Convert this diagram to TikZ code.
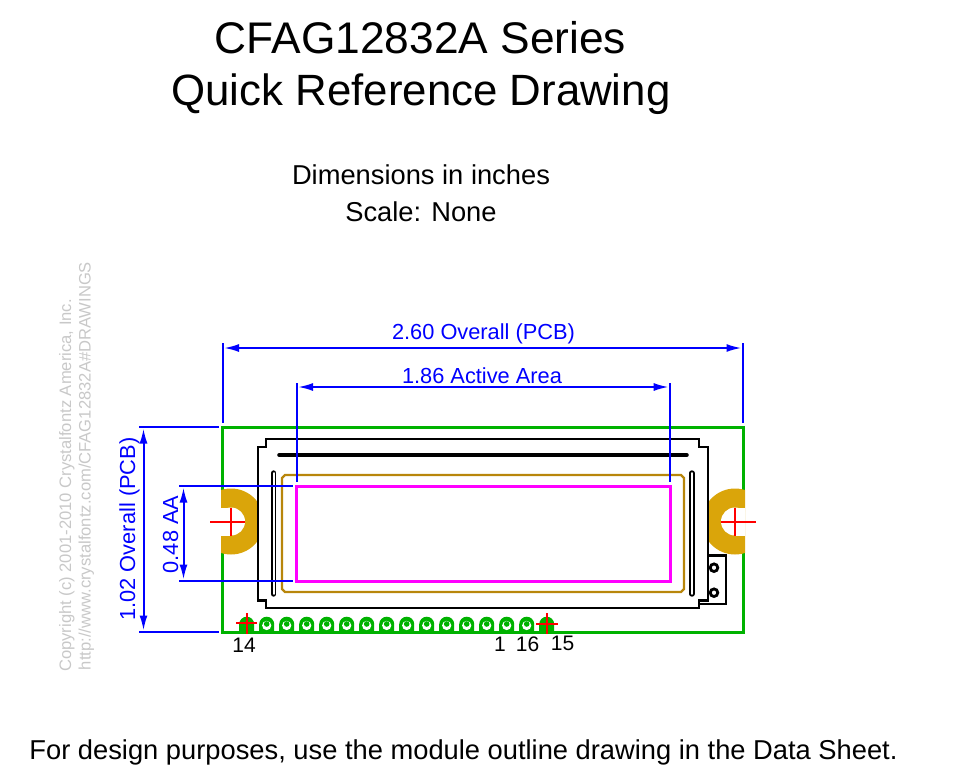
\documentclass[tikz,border=0pt]{standalone}
\usepackage{fontspec}
\setmainfont{Liberation Sans}
\usetikzlibrary{arrows.meta}
\definecolor{pcbgreen}{RGB}{0,178,0}
\definecolor{padgold}{RGB}{218,165,10}
\definecolor{aagold}{RGB}{184,134,11}
\definecolor{dimblue}{RGB}{0,0,255}
\definecolor{aamag}{RGB}{255,0,255}
\definecolor{wmgray}{RGB}{200,200,200}
\newcommand{\fs}[1]{\fontsize{#1pt}{#1pt}\selectfont}
\tikzset{
  lbl/.style={inner sep=0pt,outer sep=0pt,anchor=base},
  titletxt/.style={lbl,font=\fs{43.8}},
  subtxt/.style={lbl,font=\fs{27.3}},
  dimtxt/.style={lbl,text=dimblue,font=\fs{21.8}},
  pintxt/.style={lbl,font=\fs{21}},
  wmtxt/.style={lbl,text=wmgray,rotate=90,font=\fs{16.6}},
  extline/.style={draw=dimblue,line width=2pt},
  dimline/.style={draw=dimblue,line width=2pt,{Latex[length=15pt,width=8pt]}-{Latex[length=15pt,width=8pt]}},
  blackline/.style={draw=black,line width=2.8pt,line join=miter},
  slotout/.style={draw=black,line width=5.4pt,line cap=round},
  slotin/.style={draw=white,line width=1.6pt,line cap=round},
  redcross/.style={draw=red,line width=2pt},
}
\begin{document}
\begin{tikzpicture}[x=1pt,y=-1pt]
\useasboundingbox (0,0) rectangle (957,774);
% titles
\node[titletxt,font=\fs{44.3}] (t1) at (420.5,53) {CFAG12832A Series};
\node[titletxt] (t2) at (421,105) {Quick Reference Drawing};
\node[subtxt] (s1) at (421,184) {Dimensions in inches};
\node[subtxt] (s2) at (421,221) {Scale: None};
\node[subtxt] (foot) at (463.5,759) {For design purposes, use the module outline drawing in the Data Sheet.};
% watermark
\node[wmtxt] (wm1) at (71,485.5) {Copyright (c) 2001-2010 Crystalfontz America, Inc.};
\node[wmtxt] (wm2) at (90.5,466) {http://www.crystalfontz.com/CFAG12832A\#DRAWINGS};
% PCB
\draw[pcbgreen,line width=3pt,line join=miter] (222,427) rectangle (743.5,632);
% pins
\foreach \i in {0,...,15}{
  \pgfmathsetmacro{\px}{246.7+20*\i}
  \fill[pcbgreen] (\px-7.5,632) -- (\px-7.5,624.2) arc[start angle=180,end angle=0,x radius=7.5,y radius=-7.5] -- (\px+7.5,632) -- cycle;
  \ifnum\i>0 \ifnum\i<15
    \fill[white] (\px,625.5) circle[radius=4.6];
    \fill[pcbgreen] (\px,624) circle[radius=2.8];
  \fi\fi
}
% mounting pads
\begin{scope}
  \clip (221,480) rectangle (258,560);
  \fill[padgold] (231,521.5) circle[radius=33];
  \fill[white] (231,521.5) circle[radius=14];
  \fill[white] (219,507.5) rectangle (231,535.5);
\end{scope}
\begin{scope}
  \clip (708,480) rectangle (745,560);
  \fill[padgold] (735,521.5) circle[radius=33];
  \fill[white] (735,521.5) circle[radius=14];
  \fill[white] (735,507.5) rectangle (747,535.5);
\end{scope}
% connector at right
\draw[blackline] (708,555.7) -- (726,555.7) -- (726,604) -- (699,604);
\draw[black,line width=2.8pt,fill=white] (714,567.7) circle[radius=3.8];
\draw[black,line width=2.8pt,fill=white] (714,592.7) circle[radius=3.8];
% module outline
\draw[blackline] (266,439) -- (699,439) -- (699,447) -- (708,447) -- (708,600.5) -- (699,600.5) -- (699,608) -- (266,608) -- (266,600.5) -- (258,600.5) -- (258,447) -- (266,447) -- cycle;
% slots
\draw[slotout,line width=4.6pt] (279.5,455) -- (686.5,455);
\draw[slotout] (273.7,473) -- (273.7,594);
\draw[slotin] (273.7,473) -- (273.7,594);
\draw[slotout] (691.8,473) -- (691.8,594);
\draw[slotin] (691.8,473) -- (691.8,594);
% active area and viewing area
\draw[aagold,line width=2.2pt] (285,475) -- (681,475) -- (684,478) -- (684,589) -- (681,592) -- (285,592) -- (282,589) -- (282,478) -- cycle;
\draw[aamag,line width=3pt,line join=miter] (296.5,486) rectangle (670,581);
% red crosses
\coordinate (cLa) at (210,521.5); \coordinate (cLb) at (245,521.5);
\coordinate (cLc) at (231,507.5); \coordinate (cLd) at (231,535.5);
\coordinate (cRa) at (721,521.5); \coordinate (cRb) at (756,521.5);
\coordinate (cRc) at (735,507.5); \coordinate (cRd) at (735,535.5);
\coordinate (p14a) at (236,623); \coordinate (p14b) at (257,623);
\coordinate (p14c) at (246.7,613); \coordinate (p14d) at (246.7,634);
\coordinate (p15a) at (536,623.5); \coordinate (p15b) at (557.5,623.5);
\coordinate (p15c) at (546.7,613); \coordinate (p15d) at (546.7,634);
\draw[redcross] (cLa) -- (cLb); \draw[redcross] (cLc) -- (cLd);
\draw[redcross] (cRa) -- (cRb); \draw[redcross] (cRc) -- (cRd);
\draw[redcross] (p14a) -- (p14b); \draw[redcross] (p14c) -- (p14d);
\draw[redcross] (p15a) -- (p15b); \draw[redcross] (p15c) -- (p15d);
% pin labels
\node[pintxt] (n14) at (244,652) {14};
\node[pintxt] (n1) at (500,651) {1};
\node[pintxt] (n16) at (527.5,651) {16};
\node[pintxt] (n15) at (562.5,650) {15};
% dimension coordinates
\coordinate (ovL) at (224,348); \coordinate (ovR) at (741.5,348);
\coordinate (ovLt) at (222.7,343); \coordinate (ovLb) at (222.7,423);
\coordinate (ovRt) at (742.7,343); \coordinate (ovRb) at (742.7,423);
\coordinate (aaL) at (298,387); \coordinate (aaR) at (668.7,387);
\coordinate (aaLt) at (296.7,383); \coordinate (aaLb) at (296.7,482);
\coordinate (aaRt) at (670,383); \coordinate (aaRb) at (670,482);
\coordinate (hT) at (143.5,428.5); \coordinate (hB) at (143.5,630.5);
\coordinate (hTa) at (139,427); \coordinate (hTb) at (219,427);
\coordinate (hBa) at (139,632); \coordinate (hBb) at (219,632);
\coordinate (vT) at (183.5,487.5); \coordinate (vB) at (183.5,579.5);
\coordinate (vTa) at (179,486); \coordinate (vTb) at (293,486);
\coordinate (vBa) at (179,581); \coordinate (vBb) at (293,581);
% extension lines
\draw[extline] (ovLt) -- (ovLb); \draw[extline] (ovRt) -- (ovRb);
\draw[extline] (aaLt) -- (aaLb); \draw[extline] (aaRt) -- (aaRb);
\draw[extline] (hTa) -- (hTb); \draw[extline] (hBa) -- (hBb);
\draw[extline] (vTa) -- (vTb); \draw[extline] (vBa) -- (vBb);
% dimension lines
\draw[dimline] (ovL) -- (ovR);
\draw[dimline] (aaL) -- (aaR);
\draw[dimline] (hT) -- (hB);
\draw[dimline] (vT) -- (vB);
% dimension labels
\node[dimtxt] (d1) at (483.5,339) {2.60 Overall (PCB)};
\node[dimtxt] (d2) at (482,383) {1.86 Active Area};
\node[dimtxt,rotate=90] (d3) at (135,529) {1.02 Overall (PCB)};
\node[dimtxt,rotate=90] (d4) at (178,534.5) {0.48 AA};
\end{tikzpicture}
\end{document}
